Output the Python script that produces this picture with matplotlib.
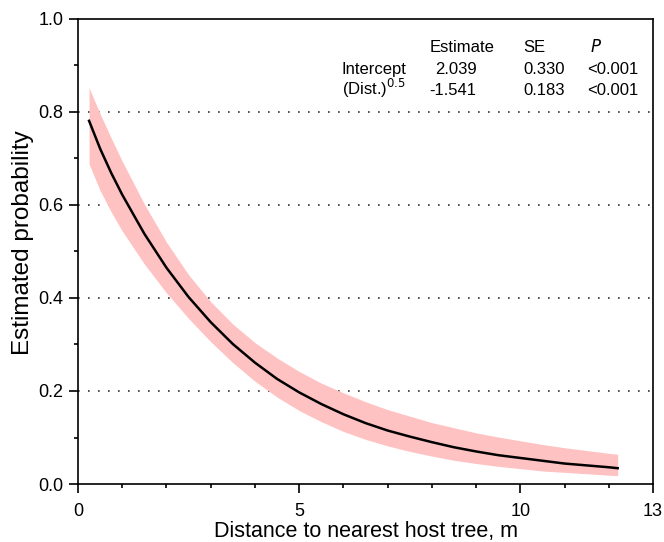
import matplotlib
matplotlib.use("Agg")
import matplotlib.pyplot as plt
from matplotlib.ticker import MultipleLocator, FixedLocator, FormatStrFormatter

plt.rcParams['font.family'] = ['Liberation Sans', 'DejaVu Sans']

# fitted probability and 95% band vs distance to nearest host tree (m)
distance = [0.25, 0.5, 0.75, 1.0, 1.5, 2.0, 2.5, 3.0, 3.5, 4.0, 4.5, 5.0, 5.5, 6.0,
            6.5, 7.0, 7.5, 8.0, 8.5, 9.0, 9.5, 10.0, 10.5, 11.0, 11.5, 12.0, 12.2]
prob = [0.781, 0.721, 0.669, 0.622, 0.538, 0.465, 0.402, 0.348, 0.301, 0.261, 0.226,
        0.197, 0.172, 0.150, 0.131, 0.115, 0.102, 0.090, 0.079, 0.070, 0.062, 0.056,
        0.050, 0.044, 0.040, 0.036, 0.034]
prob_lo = [0.688, 0.631, 0.585, 0.544, 0.473, 0.411, 0.356, 0.306, 0.261, 0.221, 0.187,
           0.158, 0.134, 0.113, 0.096, 0.082, 0.070, 0.060, 0.051, 0.044, 0.038, 0.033,
           0.028, 0.025, 0.022, 0.019, 0.018]
prob_hi = [0.852, 0.796, 0.744, 0.694, 0.602, 0.520, 0.450, 0.392, 0.344, 0.304, 0.271,
           0.242, 0.217, 0.196, 0.177, 0.160, 0.146, 0.132, 0.121, 0.110, 0.101, 0.093,
           0.085, 0.078, 0.072, 0.066, 0.064]

# coefficient table
table_header = ["Estimate", "SE", "$\\it{P}$"]
term_names = ["Intercept", "(Dist.)$^{0.5}$"]
estimates = ["2.039", "-1.541"]
std_errors = ["0.330", "0.183"]
p_values = ["<0.001", "<0.001"]

fig = plt.figure(figsize=(6.64, 5.42), dpi=100)
ax = fig.add_axes([0.1175, 0.107, 0.866, 0.858])

for gy in [0.2, 0.4, 0.6, 0.8]:
    ax.axhline(gy, color='#333333', lw=1.2, ls=(0, (1, 5)), zorder=1)

ax.fill_between(distance, prob_lo, prob_hi, color='#ffc2c2', lw=0, zorder=2)
ax.plot(distance, prob, color='black', lw=1.8, zorder=3)

ax.set_xlim(0, 13)
ax.set_ylim(0, 1.0)
ax.xaxis.set_major_locator(FixedLocator([0, 5, 10, 13]))
ax.xaxis.set_minor_locator(MultipleLocator(1))
ax.yaxis.set_major_locator(MultipleLocator(0.2))
ax.yaxis.set_minor_locator(MultipleLocator(0.1))
ax.yaxis.set_major_formatter(FormatStrFormatter('%.1f'))
ax.tick_params(which='major', direction='out', length=6.5, width=1.2, labelsize=13)
ax.tick_params(which='minor', direction='out', length=3, width=1.2)
ax.tick_params(axis='x', which='major', pad=7)
ax.tick_params(axis='y', which='major', pad=4)
ax.tick_params(top=False, right=False, which='both')
for sp in ax.spines.values():
    sp.set_linewidth(1.2)

ax.set_xlabel("Distance to nearest host tree, m", fontsize=15.5, labelpad=1)
ax.set_ylabel("Estimated probability", fontsize=17.5)
ax.yaxis.set_label_coords(-0.077, 0.52)

# coefficient table in the upper right
fs = 12
rows_y = [0.928, 0.881, 0.837]
ax.text(7.94, rows_y[0], table_header[0], fontsize=fs, va='baseline', ha='left')
ax.text(10.06, rows_y[0], table_header[1], fontsize=fs, va='baseline', ha='left')
ax.text(11.58, rows_y[0], table_header[2], fontsize=fs, va='baseline', ha='left')
for i in range(2):
    y = rows_y[i + 1]
    ax.text(5.96, y, term_names[i], fontsize=fs, va='baseline', ha='left')
    ax.text(9.01, y, estimates[i], fontsize=fs, va='baseline', ha='right')
    ax.text(10.06, y, std_errors[i], fontsize=fs, va='baseline', ha='left')
    ax.text(11.51, y, p_values[i], fontsize=fs, va='baseline', ha='left')

fig.savefig("out.png", dpi=100)
